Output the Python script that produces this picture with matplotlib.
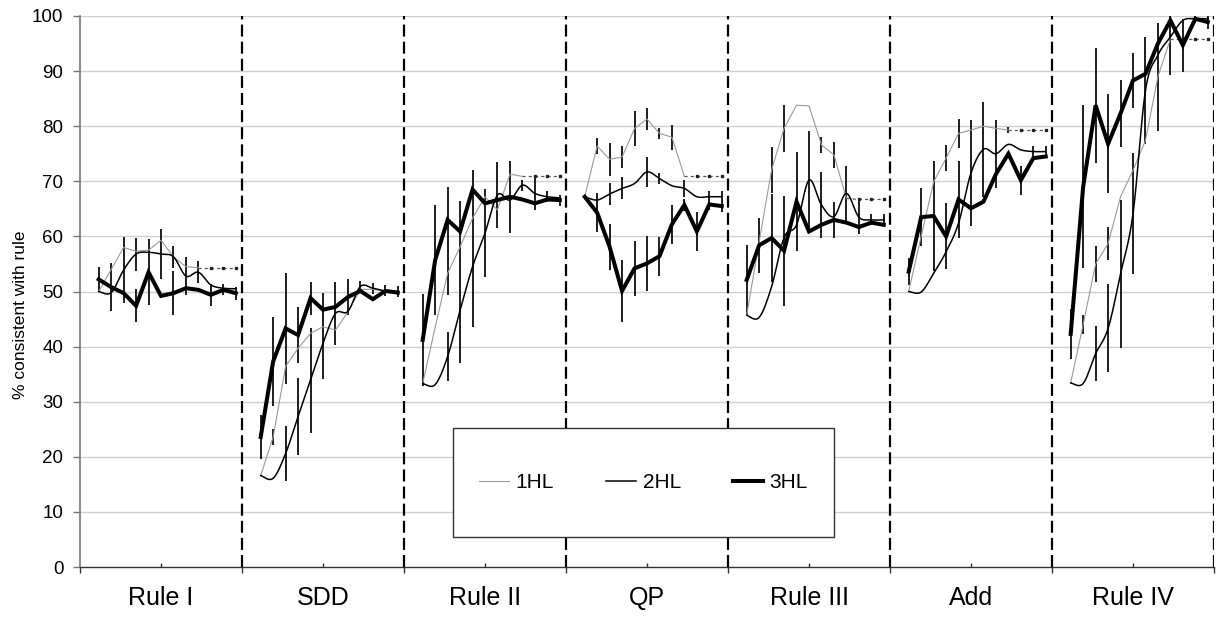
import numpy as np
import matplotlib

matplotlib.use("Agg")
import matplotlib.pyplot as plt
from matplotlib.lines import Line2D
from matplotlib.patches import Rectangle

plt.rcParams["font.family"] = ["Liberation Sans", "DejaVu Sans"]

# ---- data ----
panels = ["Rule I", "SDD", "Rule II", "QP", "Rule III", "Add", "Rule IV"]
slot = 13  # category slots per panel, points sit in slots 1..12

hl1 = [
    [50.0, 54.0, 58.0, 57.3, 57.5, 59.3, 56.3, 54.5, 54.3, 54.3, 54.3, 54.3],
    [16.6, 23.6, 36.4, 39.7, 42.4, 43.6, 43.0, 46.3, 50.4, 50.4, 50.0, 50.0],
    [33.3, 43.5, 53.3, 58.1, 63.3, 67.2, 64.8, 71.3, 70.9, 70.9, 70.9, 70.9],
    [67.2, 76.4, 74.0, 74.4, 79.6, 81.3, 78.7, 78.0, 70.9, 70.9, 70.9, 70.9],
    [45.7, 59.0, 72.1, 79.6, 83.8, 83.7, 76.6, 74.8, 66.9, 66.7, 66.7, 66.7],
    [50.0, 60.0, 69.9, 74.2, 78.7, 79.3, 80.0, 79.6, 79.3, 79.3, 79.3, 79.3],
    [33.4, 44.0, 55.0, 58.7, 67.2, 72.0, 77.4, 89.0, 95.8, 95.8, 95.8, 95.8],
]
# index from which 1HL is only a flat (dotted) carry-over
hl1_flat_from = [8, None, 8, 8, 8, 8, 8]

hl2 = [
    [50.0, 49.8, 53.9, 56.8, 57.1, 56.8, 56.3, 52.8, 53.5, 51.2, 50.6, 50.5],
    [16.6, 16.1, 20.6, 27.3, 33.9, 40.6, 46.0, 46.4, 50.9, 50.6, 50.1, 50.0],
    [33.3, 33.1, 38.2, 46.6, 54.5, 60.6, 67.5, 66.6, 69.3, 67.8, 67.2, 67.0],
    [67.2, 66.6, 67.7, 68.7, 69.6, 71.7, 70.5, 69.2, 68.7, 67.2, 67.2, 67.2],
    [45.7, 45.3, 50.9, 59.8, 62.1, 70.2, 65.7, 63.6, 67.8, 63.5, 63.0, 63.0],
    [50.0, 49.9, 53.3, 57.2, 62.4, 71.5, 75.8, 75.0, 76.7, 75.7, 75.4, 75.4],
    [33.4, 33.3, 38.7, 43.3, 53.2, 64.1, 86.5, 92.9, 96.2, 99.2, 99.5, 99.5],
]

hl3 = [
    [52.2, 50.8, 49.7, 47.4, 53.5, 49.2, 49.7, 50.6, 50.3, 49.4, 50.3, 49.7],
    [23.6, 37.3, 43.3, 42.1, 48.8, 46.7, 47.2, 49.0, 50.1, 48.6, 50.1, 49.8],
    [41.2, 55.7, 63.0, 60.9, 68.5, 66.0, 66.6, 67.2, 66.7, 66.0, 66.7, 66.6],
    [67.2, 64.3, 58.1, 50.1, 54.2, 55.1, 56.4, 62.2, 65.7, 60.9, 65.8, 65.5],
    [52.1, 58.4, 59.7, 57.4, 66.3, 60.9, 62.1, 63.0, 62.5, 61.7, 62.5, 62.1],
    [53.6, 63.5, 63.7, 60.0, 66.7, 65.1, 66.3, 71.3, 75.0, 70.2, 74.2, 74.5],
    [42.3, 69.0, 83.8, 76.8, 82.3, 88.3, 89.5, 95.0, 99.2, 94.7, 99.5, 98.9],
]

err1 = [
    [0, 0, 0, 0, 0, 0, 0, 0, 0, 0, 0, 0],
    [0, 1.5, 0, 0, 0, 0, 0, 0, 0, 0, 0, 0],
    [0, 0, 4, 0, 0, 0, 0, 0, 0, 0, 0, 0],
    [0, 1.5, 3, 2, 3.2, 2, 1, 2.3, 0, 0, 0, 0],
    [0, 0, 4.2, 4.2, 0, 0, 1.5, 2.4, 0, 0, 0, 0],
    [0, 0, 0, 2.3, 2.6, 0, 0, 0, 0.6, 0, 0, 0],
    [0, 1.8, 3.2, 3, 0, 0, 0, 9.8, 6.5, 0, 0, 0],
]
err2 = [
    [0, 0, 6, 3, 0, 4.5, 2, 3.5, 2, 0, 0, 0],
    [0, 0, 5, 7, 9.5, 6.5, 5.7, 0, 1, 1, 1, 1],
    [0, 0, 4.5, 9.5, 11, 8, 6, 0, 1, 3, 1, 0],
    [0, 0, 2, 2, 0, 2.7, 1, 0, 1.5, 0, 1, 1],
    [0, 0, 0, 0, 0, 9, 6, 0, 5, 3, 1, 1],
    [0, 0, 0, 0, 0, 9.7, 8.6, 6.2, 0, 0, 1, 1],
    [0, 0, 5, 8, 13.4, 11, 9.7, 0, 0, 0, 0.8, 0],
]
err3 = [
    [2.2, 4.3, 0, 3, 6, 0, 4, 0, 0, 2, 1, 1.2],
    [4, 8, 10, 5, 3, 3, 0, 3.3, 0, 0, 0, 0],
    [8.3, 10, 6, 5.5, 3.5, 0, 0, 6.5, 0, 0, 0, 1],
    [0, 3.5, 4.2, 5.6, 5, 5, 3.5, 3.5, 1, 3.6, 1, 1],
    [6.3, 5, 8, 10, 9, 0, 0, 3.3, 0, 0, 0, 0],
    [2.4, 5.3, 10, 6, 7, 0, 0, 0, 0, 2.6, 0, 0],
    [4.5, 14.8, 10.4, 9, 6, 5, 0, 0, 0, 4.8, 0, 1.3],
]

series_labels = ["1HL", "2HL", "3HL"]
y_ticks = list(range(0, 101, 10))


def catmull_rom(x, y, steps=16):
    """Excel-like smoothed line through the points."""
    pts = np.column_stack([x, y]).astype(float)
    padded = np.vstack([pts[0], pts, pts[-1]])
    t = np.linspace(0, 1, steps, endpoint=False)[:, None]
    out = []
    for i in range(len(pts) - 1):
        p0, p1, p2, p3 = padded[i], padded[i + 1], padded[i + 2], padded[i + 3]
        seg = 0.5 * (2 * p1 + (-p0 + p2) * t + (2 * p0 - 5 * p1 + 4 * p2 - p3) * t ** 2
                     + (-p0 + 3 * p1 - 3 * p2 + p3) * t ** 3)
        out.append(seg)
    out.append(pts[-1:])
    out = np.vstack(out)
    return out[:, 0], out[:, 1]


W, H = 1218, 625
AX_L, AX_R, AX_T, AX_B = 80, 1214, 16, 567
fig = plt.figure(figsize=(W / 100, H / 100), dpi=100)
ax = fig.add_axes([AX_L / W, 1 - AX_B / H, (AX_R - AX_L) / W, (AX_B - AX_T) / H])

n_panels = len(panels)
ax.set_xlim(0, slot * n_panels)
ax.set_ylim(0, 100)

for y in y_ticks[1:]:
    ax.axhline(y, color="#cfcfcf", lw=1.0, zorder=0)

ebar_kw = dict(fmt="none", ecolor="#1e1e1e", elinewidth=1.4, capsize=0, zorder=2)

for p in range(n_panels):
    x = slot * p + np.arange(1, 13) + 0.5
    y1 = np.array(hl1[p])
    y2 = np.array(hl2[p])
    y3 = np.array(hl3[p])

    ax.errorbar(x, y1, yerr=err1[p], **ebar_kw)
    ax.errorbar(x, y2, yerr=err2[p], **ebar_kw)
    ax.errorbar(x, y3, yerr=err3[p], **ebar_kw)

    k = hl1_flat_from[p]
    if k is None:
        ax.plot(x, y1, color="#9a9a9a", lw=0.8, zorder=3)
    else:
        ax.plot(x[:k + 1], y1[:k + 1], color="#9a9a9a", lw=0.8, zorder=3)
        ax.plot(x[k:], y1[k:], color="#555555", lw=0.9, ls=(0, (2.5, 2.5)), zorder=3)
        ax.plot(x[k + 1:], y1[k + 1:], ls="none", marker="s", ms=1.6,
                color="#222222", zorder=3)

    sx, sy = catmull_rom(x, y2)
    ax.plot(sx, sy, color="black", lw=1.1, zorder=4)
    ax.plot(x, y3, color="black", lw=2.9, zorder=5, solid_joinstyle="miter")

for p in range(1, n_panels + 1):
    ax.axvline(slot * p, color="black", lw=1.6, ls=(0, (5.4, 2.3)), zorder=6)

# axes styling
for side in ("top", "right"):
    ax.spines[side].set_visible(False)
ax.spines["left"].set_color("#777777")
ax.spines["left"].set_linewidth(1.2)
ax.spines["bottom"].set_color("#333333")
ax.spines["bottom"].set_linewidth(1.0)

ax.set_yticks(y_ticks)
ax.tick_params(axis="y", labelsize=13.5, length=5, width=1, color="#777777", pad=7)

ax.set_xticks([slot * p for p in range(n_panels + 1)])
ax.set_xticklabels([])
ax.set_xticks([slot * p + slot / 2 for p in range(n_panels)], minor=True)
ax.set_xticklabels(panels, minor=True, fontsize=18)
ax.tick_params(axis="x", which="major", direction="out", length=4.5, width=1, color="#333333")
ax.tick_params(axis="x", which="minor", direction="in", length=3, width=1,
               color="#333333", pad=14)

ax.set_ylabel("% consistent with rule", fontsize=12.5)
ax.yaxis.set_label_coords(-0.046, 0.457)

# legend box (white panel with a thin dark frame), entries centred inside
box_l, box_r, box_t, box_b = 453, 834, 428, 537
bx0 = (box_l - AX_L) / (AX_R - AX_L)
by0 = (AX_B - box_b) / (AX_B - AX_T)
bw = (box_r - box_l) / (AX_R - AX_L)
bh = (box_b - box_t) / (AX_B - AX_T)
ax.add_patch(Rectangle((bx0, by0), bw, bh, transform=ax.transAxes, facecolor="white",
                       edgecolor="#333333", lw=1.0, zorder=9))

handles = [
    Line2D([], [], color="#9a9a9a", lw=0.8),
    Line2D([], [], color="black", lw=1.1),
    Line2D([], [], color="black", lw=2.9),
]
leg = ax.legend(
    handles,
    series_labels,
    loc="center",
    bbox_to_anchor=(bx0 + bw / 2, by0 + bh / 2),
    borderaxespad=0,
    ncol=3,
    fontsize=15,
    frameon=False,
    handlelength=1.45,
    handletextpad=0.3,
    columnspacing=2.5,
)
leg.set_zorder(10)

fig.savefig("out.png", dpi=100, facecolor="white")
